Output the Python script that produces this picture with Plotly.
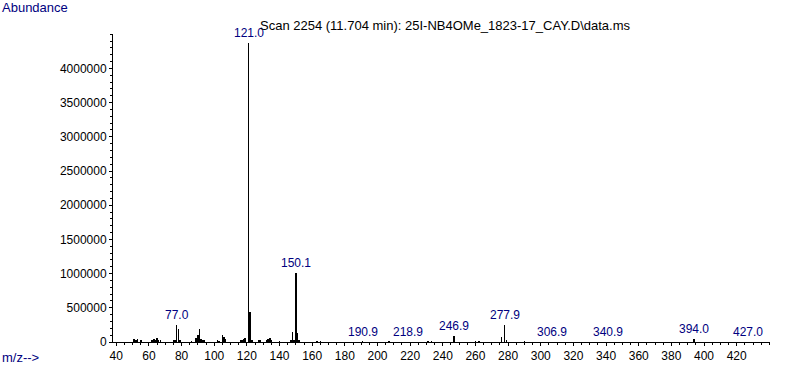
import plotly.graph_objects as go

# ---- data ----
peak_mz = [51, 52, 53, 55, 62, 63, 64, 65, 66, 67, 75, 76, 77.0, 78, 79, 86, 89, 90, 91, 92, 93, 94,
           102, 103, 105, 106, 107, 116, 117, 118, 119, 121.0, 122, 123, 127, 128, 132, 133, 134, 135,
           140, 147, 148, 149, 150.1, 151, 152, 163, 165, 190.9, 207, 231, 233, 246.9, 260, 262,
           276, 277.9, 279, 290, 394.0]
peak_int = [45000, 25000, 45000, 15000, 20000, 40000, 20000, 65000, 20000, 15000, 15000, 30000, 250000,
            190000, 35000, 10000, 65000, 100000, 195000, 45000, 15000, 15000,
            15000, 10000, 100000, 70000, 45000, 15000, 20000, 40000, 55000, 4370000, 435000, 20000,
            30000, 30000, 25000, 45000, 55000, 30000,
            10000, 20000, 145000, 20000, 1013000, 125000, 15000, 10000, 10000, 5000, 5000, 12000, 12000,
            85000, 8000, 8000, 80000, 250000, 20000, 10000, 40000]

label_mz = [77.0, 121.0, 150.1, 190.9, 218.9, 246.9, 277.9, 306.9, 340.9, 394.0, 427.0]
label_int = [250000, 4370000, 1013000, 5000, 3000, 85000, 250000, 3000, 3000, 40000, 3000]
label_text = ["77.0", "121.0", "150.1", "190.9", "218.9", "246.9", "277.9", "306.9", "340.9", "394.0", "427.0"]

x_ticks = list(range(40, 421, 20))
y_ticks = list(range(0, 4000001, 500000))

title_text = "Scan 2254 (11.704 min): 25I-NB4OMe_1823-17_CAY.D\\data.ms"

FONT = "Liberation Sans, Arial, sans-serif"
NAVY = "#000080"

fig = go.Figure()
fig.add_trace(go.Bar(x=peak_mz, y=peak_int, width=0.35,
                     marker=dict(color="black", line=dict(width=0))))

for mz, it, t in zip(label_mz, label_int, label_text):
    fig.add_annotation(x=mz, y=it, text=t, showarrow=False, xanchor="center", yanchor="bottom",
                       yshift=1, font=dict(family=FONT, size=12, color=NAVY))

L, R, T, B = 113, 17, 34, 25
W, H = 787, 367
pw, ph = W - L - R, H - T - B

fig.add_annotation(xref="paper", yref="paper", x=-L / pw, y=(ph + T - 8) / ph, text="Abundance",
                   showarrow=False, xanchor="left", yanchor="middle",
                   font=dict(family=FONT, size=13, color=NAVY))
fig.add_annotation(xref="paper", yref="paper", x=-L / pw, y=-(357 - (T + ph)) / ph, text="m/z-->",
                   showarrow=False, xanchor="left", yanchor="middle",
                   font=dict(family=FONT, size=13, color=NAVY))
fig.add_annotation(xref="paper", yref="paper", x=(258 - L) / pw, y=(ph + T - 26) / ph, text=title_text,
                   showarrow=False, xanchor="left", yanchor="middle",
                   font=dict(family=FONT, size=13, color="black"))

fig.update_layout(
    width=W, height=H,
    margin=dict(l=L, r=R, t=T, b=B, autoexpand=False),
    paper_bgcolor="white", plot_bgcolor="white",
    showlegend=False,
    bargap=0,
    font=dict(family=FONT, size=12, color="black"),
)
fig.update_xaxes(range=[38, 440.4], tickvals=x_ticks, showline=True, linecolor="black", linewidth=1,
                 ticks="outside", ticklen=3, tickcolor="black", showgrid=False, zeroline=False,
                 automargin=False,
                 minor=dict(dtick=5, tick0=40, ticks="outside", ticklen=2, tickcolor="black", showgrid=False),
                 tickfont=dict(family=FONT, size=12, color="black"))
fig.update_yaxes(range=[0, 4503000], tickvals=y_ticks, tickformat="d", showline=True, linecolor="black",
                 linewidth=1, ticks="outside", ticklen=3, tickcolor="black", showgrid=False, zeroline=False,
                 automargin=False,
                 minor=dict(dtick=100000, tick0=0, ticks="outside", ticklen=2, tickcolor="black", showgrid=False),
                 tickfont=dict(family=FONT, size=12, color="black"))

fig.write_html("out.html", config={"displayModeBar": False},
               post_script="document.body.style.margin='0';document.body.style.padding='0';")
